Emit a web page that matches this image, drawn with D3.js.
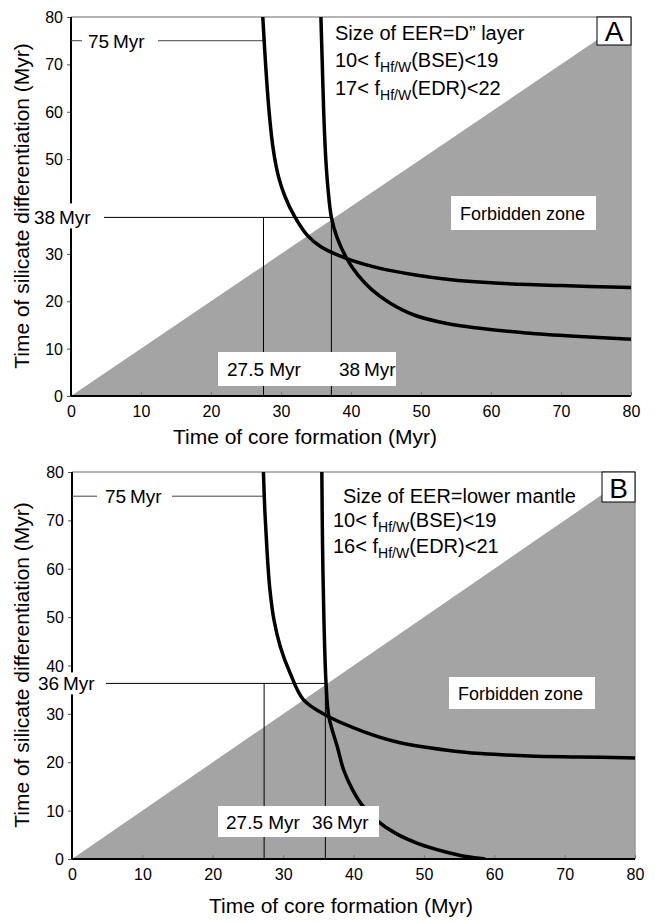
<!DOCTYPE html>
<html><head><meta charset="utf-8">
<script src="https://cdn.jsdelivr.net/npm/d3@7"></script>
<style>
body{margin:0;background:#fff}
text{font-family:"Liberation Sans",Arial,Helvetica,sans-serif;fill:#000}
</style>
</head><body>
<svg id="chart" width="655" height="922"></svg>
<script>
// ---------------- DATA ----------------
const xTickValues = [0,10,20,30,40,50,60,70,80];
const yTickValues = [0,10,20,30,40,50,60,70,80];
const xTitle = "Time of core formation (Myr)";
const yTitle = "Time of silicate differentiation (Myr)";
const forbiddenZone = [[0,0],[80,0],[80,80]];

// Panel A
const curveA1 = [[27.4,80],[27.8,70],[28.3,60],[28.9,52],[29.7,46],[30.6,42],[31.9,38],[33.7,34],[35.7,31.5],[39.4,29.0],[44,27.0],[49,25.6],[54,24.6],[60,23.9],[70,23.3],[80,22.9]];
const curveA2 = [[35.7,80],[35.9,70],[36.1,60],[36.4,50],[36.7,44],[37.2,37.7],[38.0,33.5],[39.4,29.0],[41,25.5],[43,22.4],[45.5,19.7],[49,17.1],[53.7,15.3],[58.4,14.3],[65,13.3],[72,12.6],[80,12.0]];
const guideYA = [75, 37.7];        // horizontal guide lines
const guideXA = [27.5, 37.2];      // vertical guide lines
const labelsA = ["75\u2009Myr", "38\u2009Myr", "27.5 Myr", "38\u2009Myr", "Forbidden zone"];
const infoA = ["Size of EER=D\u201D layer", ["10< f","Hf/W","(BSE)<19"], ["17< f","Hf/W","(EDR)<22"]];

// Panel B
const curveB1 = [[27.2,80],[27.4,72],[27.7,64],[28.1,56],[28.7,49.4],[29.6,43.9],[31.0,38.4],[32.9,32.9],[36.5,29.4],[41.5,26.3],[46.2,24.2],[53.3,22.5],[58.1,21.8],[65,21.3],[72,21.1],[80,20.9]];
const curveB2 = [[35.5,80],[35.6,65],[35.8,49.4],[36.1,36.3],[36.5,29.4],[37.7,23.2],[38.6,18.4],[39.8,14.5],[41.2,11.2],[43.3,8.0],[46.0,5.3],[49.2,3.2],[53,1.5],[56,0.5],[58.7,0]];
const guideYB = [75, 36.3];
const guideXB = [27.3, 36.0];
const labelsB = ["75\u2009Myr", "36\u2009Myr", "27.5 Myr", "36\u2009Myr", "Forbidden zone"];
const infoB = ["Size of EER=lower mantle", ["10< f","Hf/W","(BSE)<19"], ["16< f","Hf/W","(EDR)<21"]];

// ---------------- LAYOUT ----------------
const svg = d3.select("#chart");
const panels = [
  {id:"A", c1:curveA1, c2:curveA2, gy:guideYA, gx:guideXA, labels:labelsA, info:infoA, hiddenTick:40,
   box:{l:71,r:631,t:17,b:396}, xTitleX:305, xTitleY:444, yTitleY:206,
   lab75:{x0:82,x1:158,tx:88}, labH:{x0:28,x1:104,tx:34,up:14},
   labBot:[{x0:218,x1:306,tx:227},{x0:306,x1:396,tx:339}], botY:[352,386], botBase:376,
   fz:{x0:451,x1:596,y0:196,y1:230,tx:460,base:220},
   infoPos:[{x:335,y:40},{x:335,y:67},{x:335,y:95}], letter:{x0:597,y1:45}},
  {id:"B", c1:curveB1, c2:curveB2, gy:guideYB, gx:guideXB, labels:labelsB, info:infoB, hiddenTick:null,
   box:{l:72,r:635,t:472,b:859}, xTitleX:341, xTitleY:913, yTitleY:665,
   lab75:{x0:97,x1:172,tx:105}, labH:{x0:30,x1:106,tx:38,up:11},
   labBot:[{x0:218,x1:307,tx:226},{x0:303,x1:379,tx:312}], botY:[806,837], botBase:829,
   fz:{x0:449,x1:595,y0:677,y1:709,tx:458,base:700},
   infoPos:[{x:343,y:503},{x:333,y:527},{x:333,y:553}], letter:{x0:602,y1:502}}
];

panels.forEach(p => {
  const B = p.box;
  const x = d3.scaleLinear().domain([0,80]).range([B.l,B.r]);
  const y = d3.scaleLinear().domain([0,80]).range([B.b,B.t]);
  const g = svg.append("g");
  const clipId = "clip"+p.id;
  svg.append("clipPath").attr("id",clipId).append("rect")
     .attr("x",B.l).attr("y",B.t).attr("width",B.r-B.l).attr("height",B.b-B.t);

  // forbidden zone
  g.append("path").datum(forbiddenZone)
   .attr("d", d3.line().x(d=>x(d[0])).y(d=>y(d[1])))
   .attr("fill","#a4a4a4");

  // frame top & right (grey)
  g.append("line").attr("x1",B.l).attr("x2",B.r).attr("y1",B.t).attr("y2",B.t).attr("stroke","#9a9a9a").attr("stroke-width",1.5);
  g.append("line").attr("x1",B.r).attr("x2",B.r).attr("y1",B.t).attr("y2",B.b).attr("stroke","#9a9a9a").attr("stroke-width",1.5);

  // x axis (ticks inward)
  const xa = g.append("g").attr("transform",`translate(0,${B.b})`)
    .call(d3.axisBottom(x).tickValues(xTickValues).tickSize(0).tickPadding(0).tickFormat(d3.format("d")));
  xa.select(".domain").remove();
  xa.selectAll(".tick").append("line").attr("y1",0).attr("y2",-4).attr("stroke","#777");
  xa.selectAll("text").attr("font-size",16).attr("dy",null).attr("y",21)
    .style("font-family",'"Liberation Sans",Arial,sans-serif');

  // y axis (ticks outward)
  const ya = g.append("g").attr("transform",`translate(${B.l},0)`)
    .call(d3.axisLeft(y).tickValues(yTickValues).tickSize(4).tickPadding(4)
      .tickFormat(d => d === p.hiddenTick ? "" : d3.format("d")(d)));
  ya.select(".domain").remove();
  ya.selectAll(".tick line").attr("stroke","#555");
  ya.selectAll("text").attr("font-size",16).attr("dy","0.35em")
    .style("font-family",'"Liberation Sans",Arial,sans-serif');

  // axis lines (black)
  g.append("line").attr("x1",B.l).attr("x2",B.r).attr("y1",B.b).attr("y2",B.b).attr("stroke","#000").attr("stroke-width",2);
  g.append("line").attr("x1",B.l).attr("x2",B.l).attr("y1",B.t).attr("y2",B.b).attr("stroke","#000").attr("stroke-width",2);

  // guides
  const c1AtY = (yy) => {
    const c = p.c1; for (let i=0;i<c.length-1;i++){ if ((c[i][1]-yy)*(c[i+1][1]-yy)<=0){ const t=(yy-c[i][1])/(c[i+1][1]-c[i][1]); return c[i][0]+t*(c[i+1][0]-c[i][0]); } } return c[0][0]; };
  g.append("line").attr("x1",x(0)).attr("x2",x(c1AtY(p.gy[0]))).attr("y1",y(p.gy[0])).attr("y2",y(p.gy[0]))
    .attr("stroke","#444").attr("stroke-width",1);
  g.append("line").attr("x1",x(0)).attr("x2",x(p.gx[1])).attr("y1",y(p.gy[1])).attr("y2",y(p.gy[1]))
    .attr("stroke","#000").attr("stroke-width",1);
  p.gx.forEach(v => {
    g.append("line").attr("x1",x(v)).attr("x2",x(v)).attr("y1",y(0)).attr("y2",y(p.gy[1]))
      .attr("stroke","#000").attr("stroke-width",1);
  });

  // curves
  const line = d3.line().x(d=>x(d[0])).y(d=>y(d[1])).curve(d3.curveCatmullRom.alpha(0.5));
  [p.c1,p.c2].forEach(c => {
    g.append("path").datum(c).attr("d",line).attr("fill","none").attr("stroke","#000")
      .attr("stroke-width",3.5).attr("clip-path",`url(#${clipId})`);
  });

  // label boxes
  const box = (x0,y0,x1,y1) => g.append("rect").attr("x",x0).attr("y",y0).attr("width",x1-x0).attr("height",y1-y0).attr("fill","#fff");
  const txt = (s,tx,ty,fs) => g.append("text").attr("x",tx).attr("y",ty).attr("font-size",fs).text(s);

  const y75 = y(p.gy[0]);
  box(p.lab75.x0, y75-11, p.lab75.x1, y75+11);
  txt(p.labels[0], p.lab75.tx, y75+7, 19);

  const yH = y(p.gy[1]);
  box(p.labH.x0, yH-p.labH.up, p.labH.x1, yH+11);
  txt(p.labels[1], p.labH.tx, yH+7, 19);

  p.labBot.forEach((lb,i) => {
    box(lb.x0, p.botY[0], lb.x1, p.botY[1]);
    txt(p.labels[2+i], lb.tx, p.botBase, 19);
  });

  box(p.fz.x0,p.fz.y0,p.fz.x1,p.fz.y1);
  txt(p.labels[4], p.fz.tx, p.fz.base, 18);

  // info text
  txt(p.info[0], p.infoPos[0].x, p.infoPos[0].y, 20);
  [1,2].forEach(i => {
    const t = g.append("text").attr("x",p.infoPos[i].x).attr("y",p.infoPos[i].y).attr("font-size",20);
    t.append("tspan").text(p.info[i][0]);
    t.append("tspan").attr("font-size",14).attr("dy",5).text(p.info[i][1]);
    t.append("tspan").attr("dy",-5).text(p.info[i][2]);
  });

  // panel letter box
  g.append("rect").attr("x",p.letter.x0).attr("y",B.t).attr("width",B.r-p.letter.x0).attr("height",p.letter.y1-B.t)
    .attr("fill","#fff").attr("stroke","#000").attr("stroke-width",1);
  g.append("text").attr("x",(p.letter.x0+B.r)/2).attr("y",p.letter.y1-4).attr("text-anchor","middle")
    .attr("font-size",28).text(p.id);

  // axis titles
  g.append("text").attr("x",p.xTitleX).attr("y",p.xTitleY).attr("text-anchor","middle").attr("font-size",21).text(xTitle);
  g.append("text").attr("transform",`translate(29,${p.yTitleY}) rotate(-90)`).attr("text-anchor","middle")
    .attr("font-size",21).text(yTitle);
});
</script>
</body></html>
